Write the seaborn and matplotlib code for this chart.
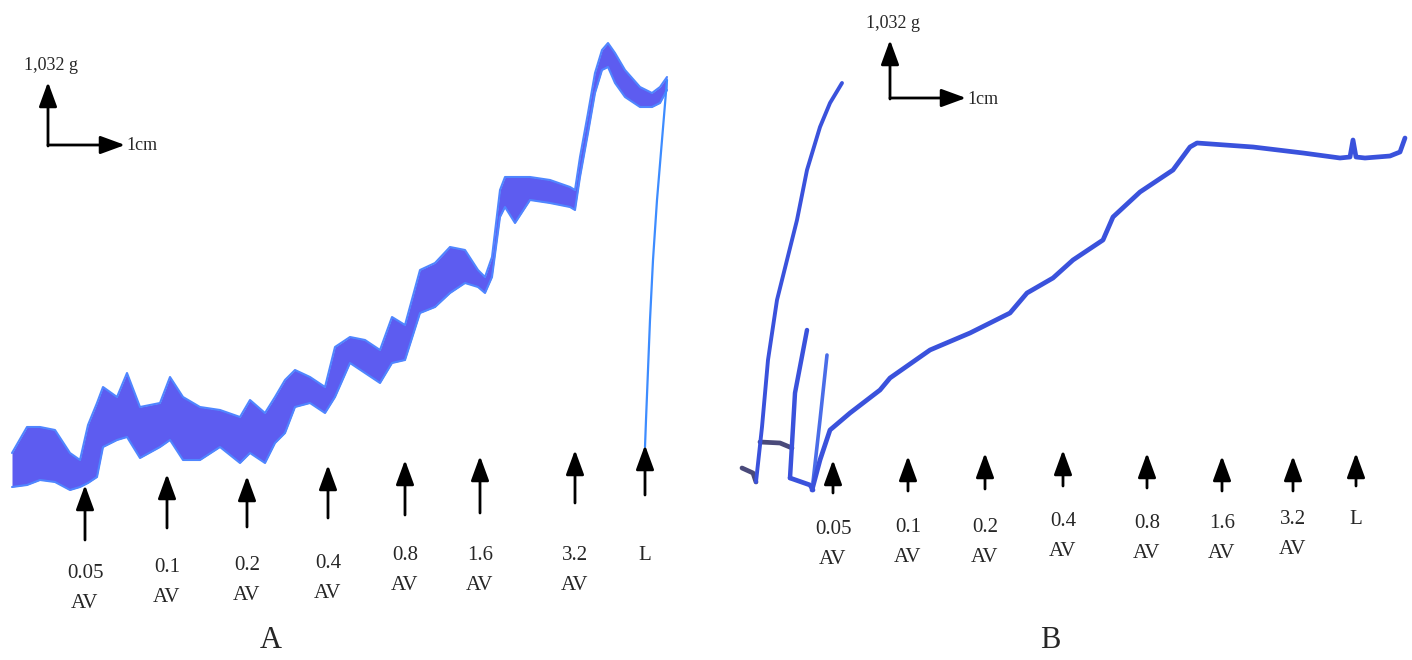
import matplotlib
matplotlib.use('Agg')

import matplotlib.pyplot as plt
import seaborn as sns

# ---- trace A: noisy band (upper / lower envelope, pixel coords)
a_x = [12, 27, 40, 55, 70, 80, 88, 97, 103, 117, 127, 140, 160, 170, 183, 200, 220, 240,
       250, 265, 275, 285, 295, 310, 325, 335, 350, 365, 380, 392, 405, 420, 435, 450,
       465, 478, 485, 492, 500, 505, 515, 530, 550, 570, 575, 580, 588, 595, 602, 608,
       615, 625, 640, 652, 660, 667]
a_top = [453, 427, 427, 430, 453, 460, 425, 403, 387, 397, 373, 407, 403, 377, 397, 407,
         410, 417, 400, 413, 397, 380, 370, 377, 387, 347, 337, 340, 350, 317, 325, 270,
         263, 247, 250, 270, 277, 257, 190, 177, 177, 177, 180, 187, 190, 157, 113, 73,
         50, 43, 53, 70, 87, 93, 87, 77]
a_bot = [487, 485, 480, 482, 490, 487, 483, 477, 447, 440, 437, 458, 447, 440, 460, 460,
         447, 463, 453, 463, 443, 433, 407, 403, 413, 397, 363, 373, 383, 363, 360, 313,
         307, 293, 283, 287, 293, 277, 217, 207, 223, 200, 203, 207, 210, 177, 133, 93,
         70, 67, 83, 97, 107, 107, 103, 90]
# washout (L) line of trace A
l_x = [667, 662, 657, 653, 650, 648, 646, 645]
l_y = [80, 140, 200, 260, 320, 370, 420, 447]

# ---- trace B segments
b_start_x = [742, 753, 756]
b_start_y = [468, 473, 482]
b_tall_x = [756, 762, 768, 777, 787, 797, 807, 820, 830, 842]
b_tall_y = [482, 427, 360, 300, 260, 220, 170, 127, 103, 83]
b_bar_x = [760, 780, 792]
b_bar_y = [442, 443, 448]
b_spike2_x = [790, 795, 807]
b_spike2_y = [478, 393, 330]
b_floor_x = [790, 810, 813]
b_floor_y = [478, 485, 490]
b_spike3_x = [813, 820, 827]
b_spike3_y = [482, 420, 355]
b_main_x = [812, 820, 830, 850, 880, 890, 930, 937, 970, 1010, 1027, 1053, 1073, 1103,
            1113, 1140, 1173, 1190, 1197, 1253, 1303, 1340, 1350, 1353, 1356, 1365, 1390,
            1400, 1405]
b_main_y = [490, 460, 430, 413, 390, 378, 350, 347, 333, 313, 293, 278, 260, 240, 217,
            192, 170, 147, 143, 147, 153, 158, 157, 140, 157, 158, 156, 152, 138]

# ---- stimulus arrows and labels
doses = ['0.05', '0.1', '0.2', '0.4', '0.8', '1.6', '3.2', 'L']
a_arrow_x = [85, 167, 247, 328, 405, 480, 575, 645]
a_arrow_tip = [485, 474, 476, 465, 460, 456, 450, 445]
a_arrow_end = [540, 528, 527, 518, 515, 513, 503, 495]
a_label_y = [573, 568, 566, 563, 556, 556, 556, 556]
b_arrow_x = [833, 908, 985, 1063, 1147, 1222, 1293, 1356]
b_arrow_tip = [460, 456, 453, 450, 453, 456, 456, 453]
b_arrow_end = [493, 491, 489, 486, 488, 491, 491, 486]
b_label_y = [530, 527, 527, 522, 523, 523, 520, 520]

sns.set_style('white')
plt.rcParams['font.family'] = ['Liberation Serif', 'DejaVu Serif']

fig = plt.figure(figsize=(14.12, 6.6), dpi=100)
ax = fig.add_axes([0, 0, 1, 1])
ax.set_xlim(0, 1412)
ax.set_ylim(660, 0)
ax.axis('off')

# trace A band
ax.fill_between(a_x, a_top, a_bot, color='#5d5cf0', lw=0)
sns.lineplot(x=a_x, y=a_top, sort=False, estimator=None, color='#4f86ff', lw=1.5, ax=ax)
sns.lineplot(x=a_x, y=a_bot, sort=False, estimator=None, color='#4f86ff', lw=1.5, ax=ax)
sns.lineplot(x=l_x, y=l_y, sort=False, estimator=None, color='#3d8cff', lw=1.6, ax=ax)

# trace B
blue = '#3a52dc'
dark = '#4a4a7a'
for xs, ys, c, w in [(b_start_x, b_start_y, dark, 3.4), (b_bar_x, b_bar_y, dark, 3.4),
                     (b_tall_x, b_tall_y, blue, 2.8), (b_spike2_x, b_spike2_y, blue, 3.2),
                     (b_floor_x, b_floor_y, blue, 3.4), (b_spike3_x, b_spike3_y, '#4a6de8', 2.6),
                     (b_main_x, b_main_y, blue, 3.4)]:
    sns.lineplot(x=xs, y=ys, sort=False, estimator=None, color=c, lw=w, ax=ax)


def arrow(x0, y0, x1, y1):
    ax.annotate('', xy=(x1, y1), xytext=(x0, y0),
                arrowprops=dict(arrowstyle='-|>,head_length=1.5,head_width=0.55',
                                color='black', lw=2.0, shrinkA=0, shrinkB=0,
                                mutation_scale=10))


for xs, tips, ends, ly in [(a_arrow_x, a_arrow_tip, a_arrow_end, a_label_y),
                           (b_arrow_x, b_arrow_tip, b_arrow_end, b_label_y)]:
    for d, x, t, e, y in zip(doses, xs, tips, ends, ly):
        arrow(x, e, x, t)
        ax.text(x, y, d, ha='center', va='center', fontsize=15)
        if d != 'L':
            ax.text(x, y + 30, 'AV', ha='center', va='center', fontsize=15)

# scale bars
for ox, oy, top, right, tx, ty in [(48, 145, 82, 125, 24, 66), (890, 98, 40, 966, 866, 24)]:
    arrow(ox, oy + 1, ox, top)
    arrow(ox, oy, right, oy)
    ax.text(tx, ty, '1,032 g', ha='left', va='center', fontsize=13)
    ax.text(right + 1, oy + 1, '1cm', ha='left', va='center', fontsize=13)

ax.text(271, 640, 'A', ha='center', va='center', fontsize=22)
ax.text(1050, 640, 'B', ha='center', va='center', fontsize=22)

fig.savefig('out.png', dpi=100, facecolor='white')
